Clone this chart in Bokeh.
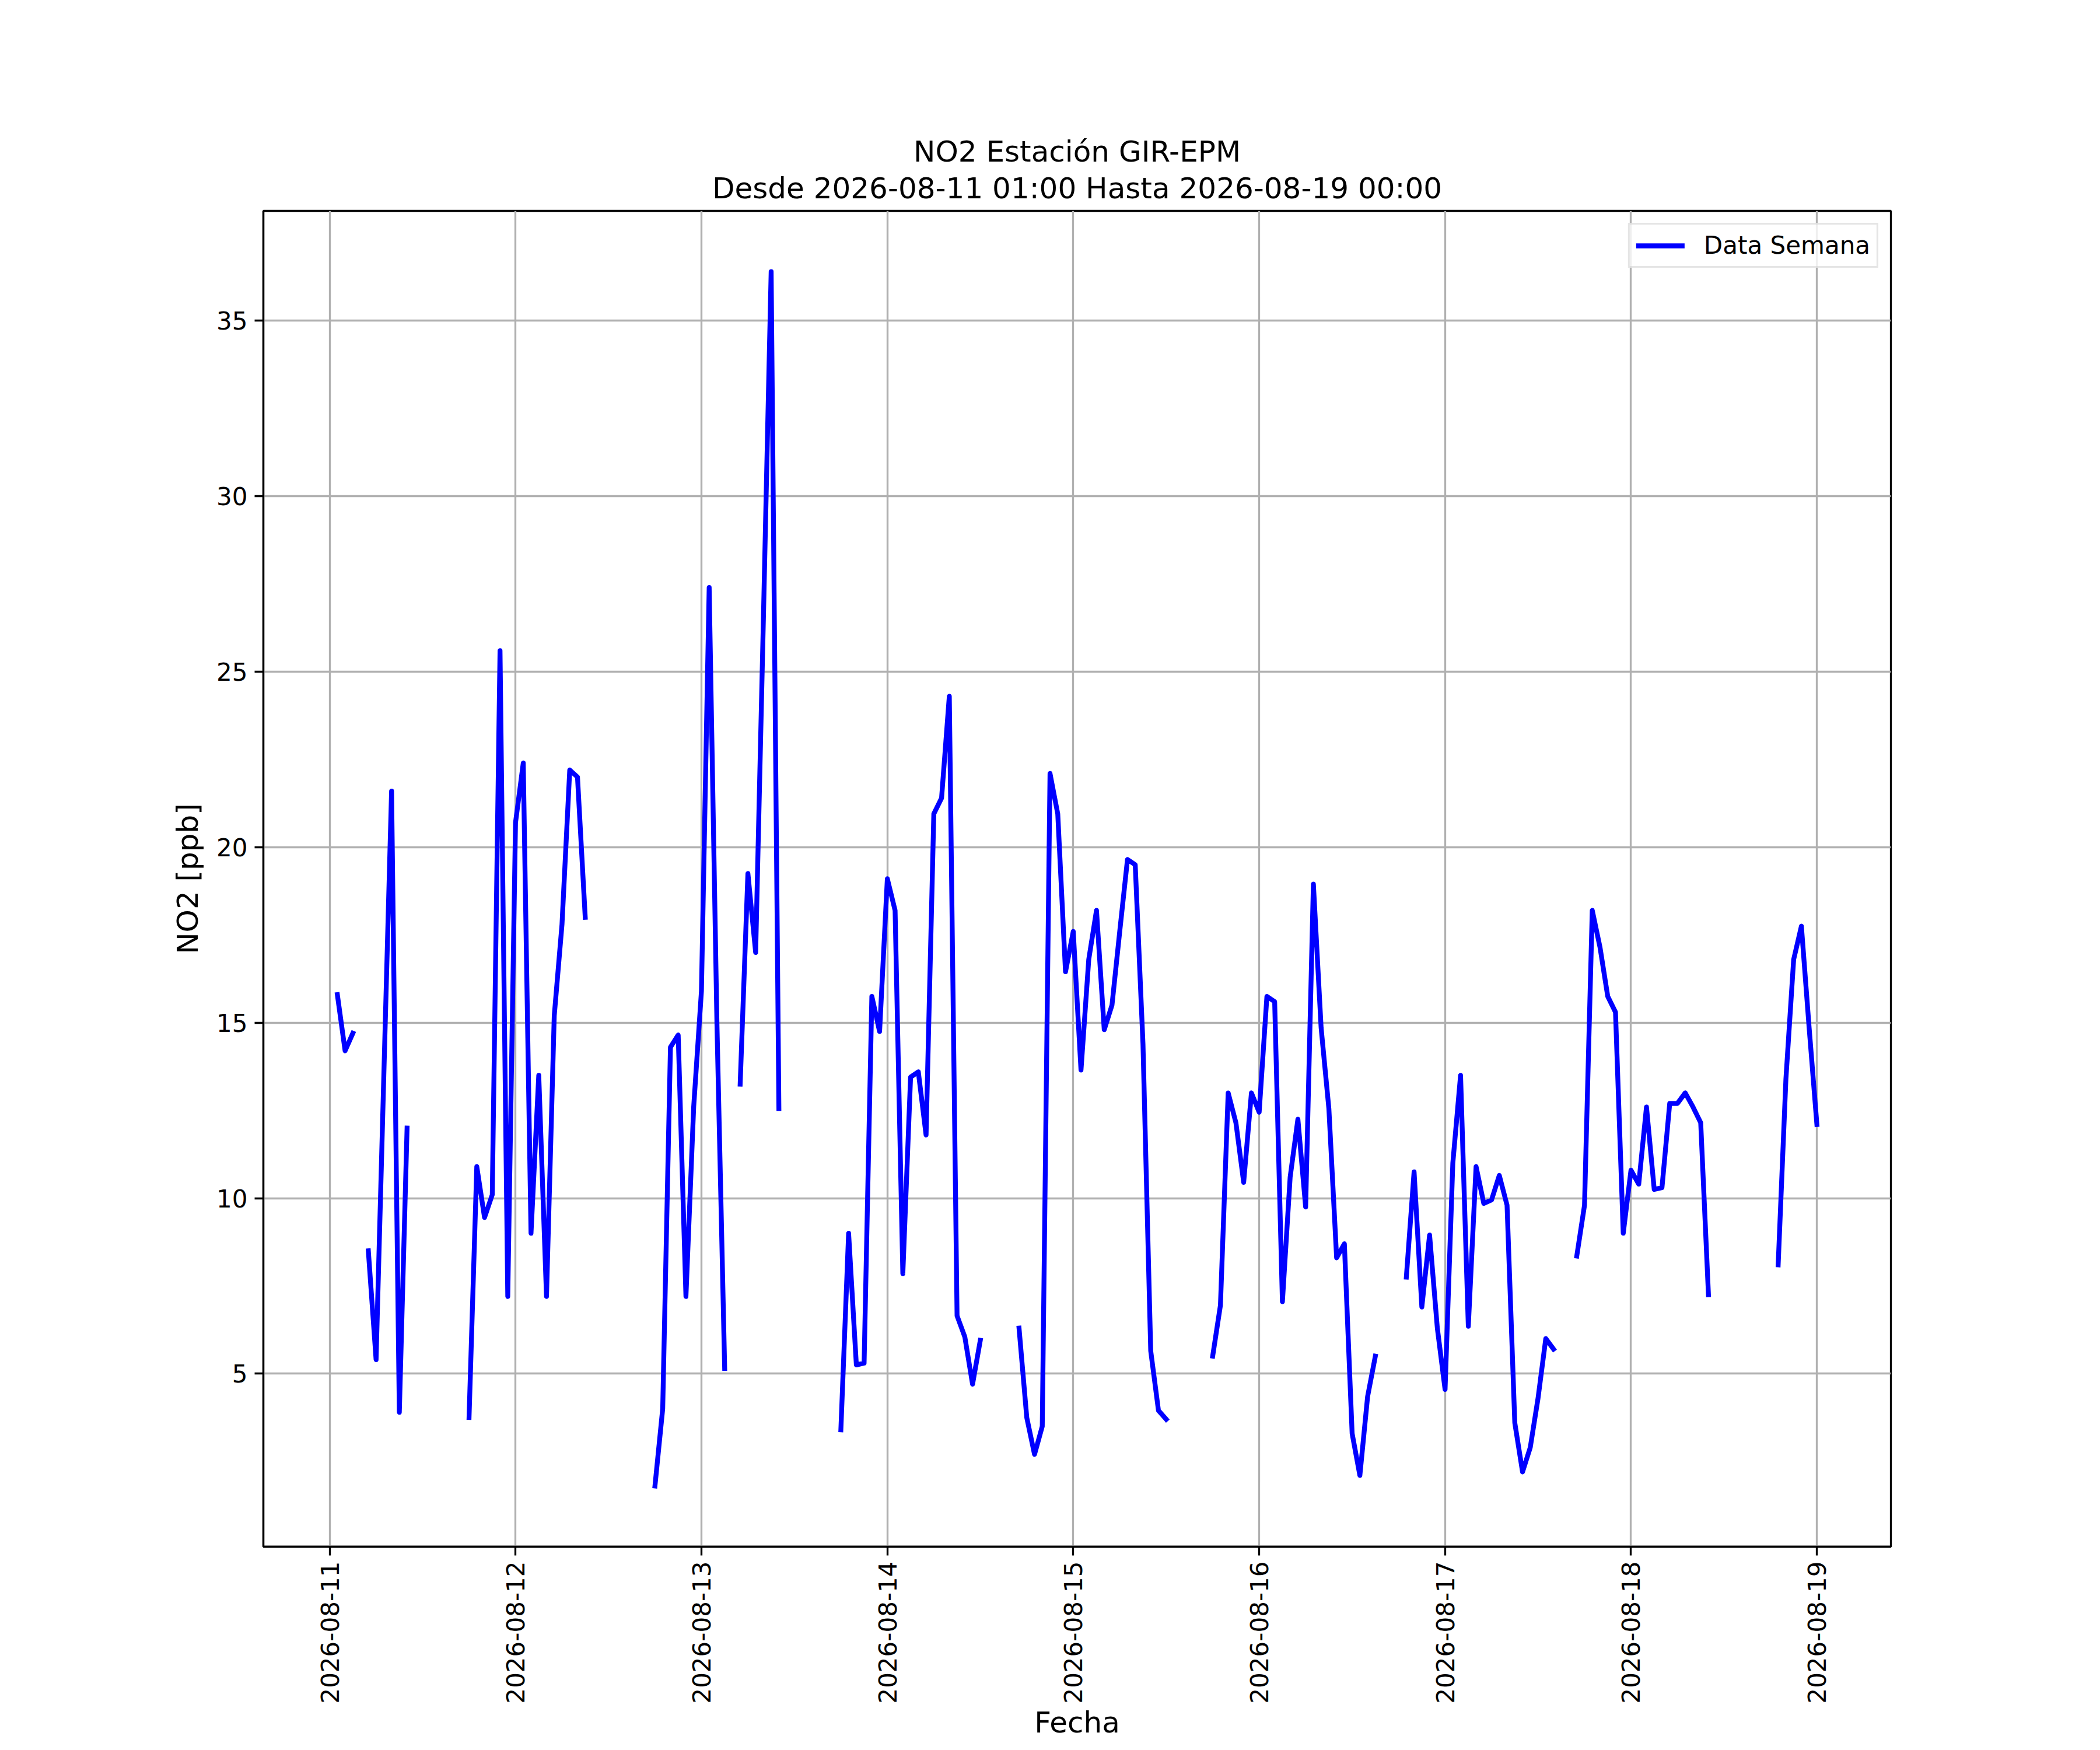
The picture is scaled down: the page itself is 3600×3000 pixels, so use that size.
import math
import numpy as np
import pandas as pd
from bokeh.plotting import figure
from bokeh.models import Range1d, FixedTicker, DatetimeTickFormatter, Title, ColumnDataSource
from bokeh.embed import file_html
from bokeh.resources import INLINE

nan = float("nan")

# Hourly NO2 values [ppb], 2026-08-11 01:00 .. 2026-08-19 00:00 (NaN = missing)
day_11 = [15.8, 14.2, 14.7, nan, 8.5, 5.4, 13.5, 21.6, 3.9, 12.0, nan, nan,
          nan, nan, nan, nan, nan, 3.75, 10.9, 9.45, 10.1, 25.6, 7.2, 20.7]
day_12 = [22.4, 9.0, 13.5, 7.2, 15.2, 17.8, 22.2, 22.0, 18.0, nan, nan, nan,
          nan, nan, nan, nan, nan, 1.8, 4.0, 14.3, 14.65, 7.2, 12.6, 15.9]
day_13 = [27.4, 15.0, 5.15, nan, 13.25, 19.25, 17.0, 26.5, 36.4, 12.55, nan, nan,
          nan, nan, nan, nan, nan, 3.4, 9.0, 5.25, 5.3, 15.75, 14.75, 19.1]
day_14 = [18.2, 7.85, 13.45, 13.6, 11.8, 20.95, 21.4, 24.3, 6.65, 6.05, 4.7, 5.95,
          nan, nan, nan, nan, 6.3, 3.75, 2.7, 3.5, 22.1, 20.95, 16.45, 17.6]
day_15 = [13.65, 16.8, 18.2, 14.8, 15.5, 17.6, 19.65, 19.5, 14.4, 5.65, 3.95, 3.7,
          nan, nan, nan, nan, nan, 5.5, 6.95, 13.0, 12.15, 10.45, 13.0, 12.45]
day_16 = [15.75, 15.6, 7.05, 10.6, 12.25, 9.75, 18.95, 14.85, 12.55, 8.3, 8.7, 3.3,
          2.1, 4.35, 5.5, nan, nan, nan, 7.75, 10.75, 6.9, 8.95, 6.3, 4.55]
day_17 = [11.0, 13.5, 6.35, 10.9, 9.85, 9.95, 10.65, 9.8, 3.6, 2.2, 2.9, 4.3,
          6.0, 5.7, nan, nan, 8.35, 9.8, 18.2, 17.15, 15.75, 15.3, 9.0, 10.8]
day_18 = [10.4, 12.6, 10.25, 10.3, 12.7, 12.7, 13.0, 12.6, 12.15, 7.25, nan, nan,
          nan, nan, nan, nan, nan, nan, 8.1, 13.4, 16.8, 17.75, 14.85, 12.1]

no2 = day_11 + day_12 + day_13 + day_14 + day_15 + day_16 + day_17 + day_18

start_time = "2026-08-11 01:00"
tick_days = ["2026-08-11", "2026-08-12", "2026-08-13", "2026-08-14", "2026-08-15",
             "2026-08-16", "2026-08-17", "2026-08-18", "2026-08-19"]
y_ticks = [5, 10, 15, 20, 25, 30, 35]

title_main = "NO2 Estación GIR-EPM"
title_sub = "Desde 2026-08-11 01:00 Hasta 2026-08-19 00:00"

times = pd.date_range(start_time, periods=len(no2), freq="h")
x_ms = times.values.astype("datetime64[ms]").astype("int64").astype(float)
y = np.array(no2, dtype=float)

span = x_ms[-1] - x_ms[0]
ymin, ymax = np.nanmin(y), np.nanmax(y)
yspan = ymax - ymin

tick_ms = [float(v) for v in pd.to_datetime(tick_days).values.astype("datetime64[ms]").astype("int64")]

FONT = "DejaVu Sans"

p = figure(width=3584, height=2984, x_axis_type="datetime",
           output_backend="svg", toolbar_location=None, title=None,
           x_range=Range1d(x_ms[0] - 0.05 * span, x_ms[-1] + 0.05 * span),
           y_range=Range1d(ymin - 0.05 * yspan, ymax + 0.05 * yspan),
           min_border_left=451, min_border_right=343,
           min_border_top=361, min_border_bottom=300)

p.background_fill_color = "white"
p.border_fill_color = "white"
p.outline_line_color = "black"
p.outline_line_width = 3.3

src = ColumnDataSource(dict(t=x_ms, v=y))
p.line("t", "v", source=src, line_color="blue", line_width=8.3,
       line_cap="square", line_join="round", legend_label="Data Semana")

# ticks
xt = FixedTicker(ticks=tick_ms)
p.xaxis.ticker = xt
p.xgrid.ticker = xt
yt = FixedTicker(ticks=y_ticks)
p.yaxis.ticker = yt
p.ygrid.ticker = yt

fmt = "%Y-%m-%d"
p.xaxis.formatter = DatetimeTickFormatter(days=fmt, months=fmt, hours=fmt, hourmin=fmt,
                                          minutes=fmt, years=fmt, minsec=fmt, seconds=fmt)
p.xaxis.major_label_orientation = math.pi / 2

for ax in (p.xaxis, p.yaxis):
    ax.axis_line_color = "black"
    ax.axis_line_width = 3.3
    ax.major_tick_line_color = "black"
    ax.major_tick_line_width = 3.3
    ax.major_tick_in = 0
    ax.major_tick_out = 15
    ax.minor_tick_line_color = None
    ax.major_label_text_font = FONT
    ax.major_label_text_font_size = "42px"
    ax.major_label_text_color = "black"
    ax.major_label_standoff = 12
    ax.axis_label_text_font = FONT
    ax.axis_label_text_font_size = "50px"
    ax.axis_label_text_font_style = "normal"
    ax.axis_label_text_color = "black"

p.xaxis.major_label_standoff = 10
p.xaxis.axis_label = "Fecha"
p.xaxis.axis_label_standoff = 0
p.yaxis.axis_label = "NO2 [ppb]"
p.yaxis.axis_label_standoff = 17

for g in (p.xgrid, p.ygrid):
    g.grid_line_color = "#b0b0b0"
    g.grid_line_width = 3.3

# titles (first added sits closest to the frame)
p.add_layout(Title(text=title_sub, align="center", text_font=FONT, text_font_size="50px",
                   text_font_style="normal", text_color="black", standoff=19), "above")
p.add_layout(Title(text=title_main, align="center", text_font=FONT, text_font_size="50px",
                   text_font_style="normal", text_color="black", standoff=-12), "above")

lg = p.legend[0]
lg.location = "top_right"
lg.margin = 21
lg.padding = 11
lg.spacing = 0
lg.glyph_width = 83
lg.glyph_height = 34
lg.label_height = 34
lg.label_standoff = 33
lg.label_text_font = FONT
lg.label_text_font_size = "42px"
lg.label_text_color = "black"
lg.border_line_color = "#cccccc"
lg.border_line_width = 3
lg.background_fill_alpha = 0.8

open("out.html", "w").write(file_html(p, INLINE))
